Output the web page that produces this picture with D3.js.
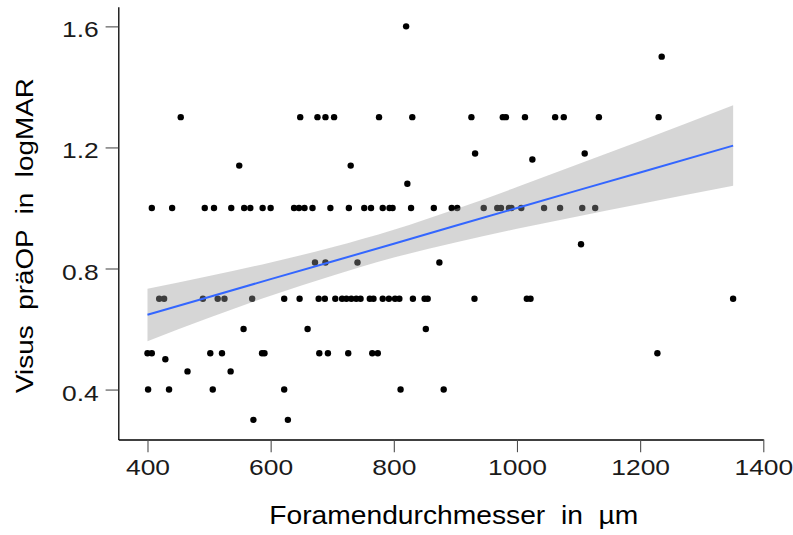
<!DOCTYPE html>
<html><head><meta charset="utf-8">
<script src="https://cdn.jsdelivr.net/npm/d3@7"></script>
<style>
body{margin:0;background:#fff}
svg{display:block}
text{font-family:"Liberation Sans",Arial,Helvetica,sans-serif}
</style>
</head><body>
<svg id="chart" width="793" height="535"></svg>
<script>
// Visus levels (logMAR) and the foramen diameters (µm) of the points on each level
const visusLevels = [1.0, 0.7, 0.52, 0.5, 0.46, 0.4, 0.3, 0.6, 0.82, 0.88, 1.08, 1.14, 1.16, 1.18, 1.3, 1.5, 1.6];
const foramen_100 = [407, 440, 493, 508, 536, 557, 567, 587, 600, 638, 646, 655, 668, 697, 727, 752, 763, 782, 793, 798, 828, 865, 894, 903, 946, 968, 974, 987, 991, 1007, 1044, 1070, 1106, 1127];
const foramen_070 = [419, 427, 490, 514, 525, 570, 622, 647, 678, 688, 705, 716, 723, 731, 739, 746, 761, 767, 782, 792, 802, 809, 831, 850, 855, 931, 1016, 1022, 1351];
const foramen_052 = [400, 407, 502, 521, 586, 590, 679, 693, 726, 765, 774, 1228];
const foramen_050 = [429];
const foramen_046 = [465, 535];
const foramen_040 = [401, 435, 506, 622, 811, 881];
const foramen_030 = [572, 628];
const foramen_060 = [556, 660, 852];
const foramen_082 = [672, 689, 741, 874];
const foramen_088 = [1104];
const foramen_108 = [822];
const foramen_114 = [549, 730];
const foramen_116 = [1025];
const foramen_118 = [932, 1110];
const foramen_130 = [454, 648, 676, 689, 703, 776, 830, 926, 977, 982, 1013, 1062, 1076, 1133, 1230];
const foramen_150 = [1235];
const foramen_160 = [820];
const foramenByLevel = [foramen_100, foramen_070, foramen_052, foramen_050, foramen_046, foramen_040, foramen_030,
  foramen_060, foramen_082, foramen_088, foramen_108, foramen_114, foramen_116, foramen_118, foramen_130, foramen_150, foramen_160];

// linear smoother (lm) and its 95% confidence band
const smoothX   = [400,   500,   600,   700,   800,   900,   1000,  1100,  1200,  1351];
const smoothFit = [0.647, 0.706, 0.765, 0.823, 0.882, 0.941, 1.000, 1.059, 1.117, 1.206];
const smoothLo  = [0.560, 0.637, 0.710, 0.776, 0.836, 0.886, 0.931, 0.973, 1.013, 1.073];
const smoothHi  = [0.733, 0.775, 0.820, 0.870, 0.928, 0.996, 1.069, 1.145, 1.221, 1.339];

const xTicks = [400, 600, 800, 1000, 1200, 1400];
const yTicks = [0.4, 0.8, 1.2, 1.6];
const xTitle = "Foramendurchmesser  in  µm";
const yTitle = "Visus  präOP  in  logMAR";

const points = [];
visusLevels.forEach((v, i) => foramenByLevel[i].forEach(f => points.push({x: f, y: v})));
const band = smoothX.map((xv, i) => ({x: xv, y: smoothFit[i], lo: smoothLo[i], hi: smoothHi[i]}));

const svg = d3.select("#chart");
const P = {left: 118.3, right: 763.3, top: 6.7, bottom: 439.5};
const x = d3.scaleLinear().domain([352.6, 1400]).range([P.left, P.right]);
const y = d3.scaleLinear().domain([0.235, 1.665]).range([P.bottom, P.top]);

// points
svg.append("g").selectAll("circle").data(points).join("circle")
  .attr("cx", d => x(d.x)).attr("cy", d => y(d.y)).attr("r", 3.2).attr("fill", "#000");

// ribbon (drawn over the points, semi-transparent)
svg.append("path").datum(band)
  .attr("d", d3.area().curve(d3.curveMonotoneX).x(d => x(d.x)).y0(d => y(d.lo)).y1(d => y(d.hi)))
  .attr("fill", "#999999").attr("fill-opacity", 0.4);
svg.append("path").datum(band)
  .attr("d", d3.line().x(d => x(d.x)).y(d => y(d.y)))
  .attr("fill", "none").attr("stroke", "#3366FF").attr("stroke-width", 2);

// axes
const xAxis = svg.append("g").attr("transform", `translate(0,${P.bottom})`)
  .call(d3.axisBottom(x).tickValues(xTicks).tickFormat(d3.format("d")).tickSize(12.7).tickSizeOuter(0).tickPadding(7));
const yAxis = svg.append("g").attr("transform", `translate(${P.left},0)`)
  .call(d3.axisLeft(y).tickValues(yTicks).tickFormat(d3.format(".1f")).tickSize(12.7).tickSizeOuter(0).tickPadding(6.8));
[xAxis, yAxis].forEach(g => {
  g.select(".domain").attr("stroke", "#000").attr("stroke-width", 1.3);
  g.selectAll(".tick line").attr("stroke", "#4d4d4d").attr("stroke-width", 1.1);
  g.selectAll(".tick text").attr("fill", "#1a1a1a").style("font-size", "22px").attr("font-family", null);
});
yAxis.selectAll(".tick text").attr("dy", "0.48em");
// the reference glyphs are drawn wider than plain Arial
svg.selectAll(".tick text").each(function() {
  const w = this.getComputedTextLength();
  d3.select(this).attr("textLength", w * 1.2).attr("lengthAdjust", "spacingAndGlyphs");
});

// titles
svg.append("text").attr("x", 453.8).attr("y", 523.5)
  .attr("text-anchor", "middle").style("font-size", "25.5px").style("white-space", "pre")
  .attr("textLength", 369).attr("lengthAdjust", "spacingAndGlyphs")
  .attr("fill", "#000").text(xTitle);
svg.append("text").attr("transform", `translate(33.3,235.5) rotate(-90)`)
  .attr("text-anchor", "middle").style("font-size", "23px").style("white-space", "pre")
  .attr("textLength", 315).attr("lengthAdjust", "spacingAndGlyphs")
  .attr("fill", "#000").text(yTitle);
</script>
</body></html>
